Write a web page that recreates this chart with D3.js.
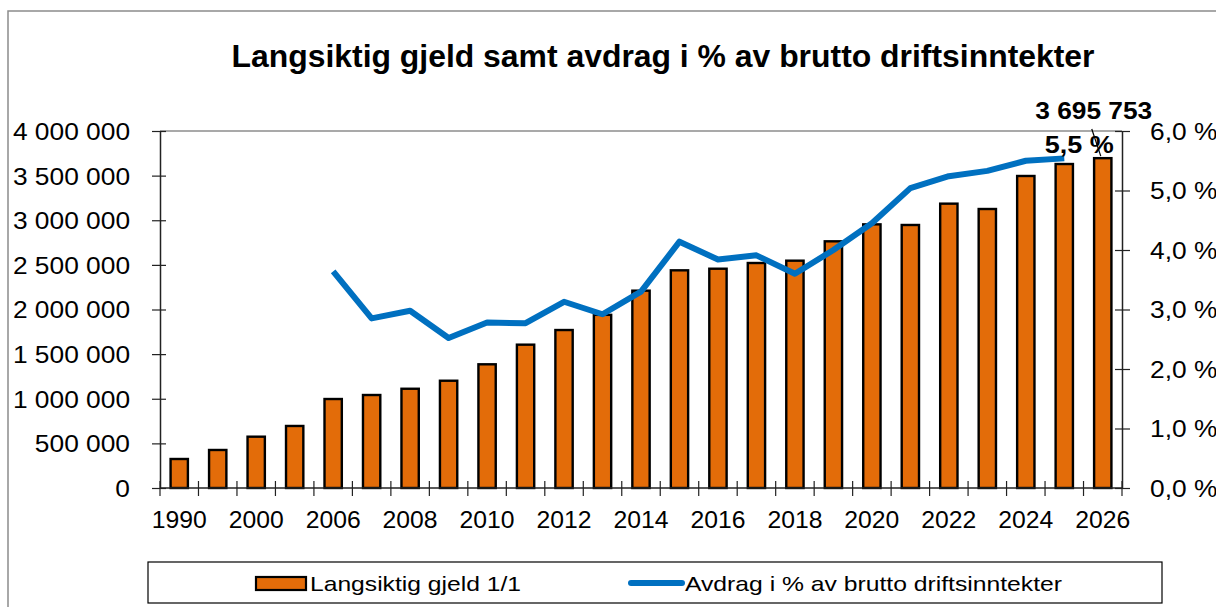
<!DOCTYPE html>
<html>
<head>
<meta charset="utf-8">
<script src="https://cdn.jsdelivr.net/npm/d3@7"></script>
<style>
  body { margin: 0; background: #fff; }
  text { font-family: "Liberation Sans", Arial, sans-serif; fill: #000; }
</style>
</head>
<body>
<div id="chart"></div>
<script>
// categories (x axis)
const years = ["1990", "1995", "2000", "2005", "2006", "2007", "2008", "2009", "2010", "2011",
  "2012", "2013", "2014", "2015", "2016", "2017", "2018", "2019", "2020", "2021",
  "2022", "2023", "2024", "2025", "2026"];
// only every other year gets a label
const yearLabels = ["1990", "2000", "2006", "2008", "2010", "2012", "2014", "2016", "2018",
  "2020", "2022", "2024", "2026"];

// Langsiktig gjeld 1/1 (kr 1000)
const debt = [325000, 426000, 575000, 695000, 997000, 1042000, 1112000, 1202000, 1386000, 1606000,
  1770000, 1940000, 2211000, 2439000, 2457000, 2521000, 2547000, 2764000, 2954000, 2947000,
  3186000, 3126000, 3496000, 3630000, 3695753];

// Avdrag i % av brutto driftsinntekter
const pct = [null, null, null, null, 3.64, 2.85, 2.98, 2.52, 2.78, 2.77,
  3.13, 2.92, 3.30, 4.14, 3.84, 3.91, 3.60, 4.00, 4.45, 5.04,
  5.24, 5.33, 5.50, 5.54, null];

const leftTicks = [0, 500000, 1000000, 1500000, 2000000, 2500000, 3000000, 3500000, 4000000];
const rightTicks = [0, 1, 2, 3, 4, 5, 6];

const W = 1216, H = 607;
const plot = {left: 160, right: 1122, top: 131, bottom: 488};

let svg = d3.select("#chart").append("svg")
    .attr("width", W)
    .attr("height", H);

svg.append("rect").attr("width", W).attr("height", H).attr("fill", "#fff");

// outer chart frame
svg.append("rect")
    .attr("x", 8).attr("y", 11)
    .attr("width", W + 20).attr("height", H + 20)
    .attr("fill", "none")
    .attr("stroke", "#8c8c8c")
    .attr("stroke-width", 1.5);

// stretch text horizontally to a width
function fit(sel, w) {
    sel.each(function() {
        let t = d3.select(this);
        let target = typeof w === "function" ? w(this) : w;
        t.attr("textLength", target).attr("lengthAdjust", "spacingAndGlyphs");
    });
}
function stretch(sel, k) {
    fit(sel, node => node.getComputedTextLength() * k);
}

let x = d3.scaleBand()
    .domain(years)
    .range([plot.left, plot.right])
    .paddingInner(0.55)
    .paddingOuter(0.275);

let yL = d3.scaleLinear().domain([0, 4000000]).range([plot.bottom, plot.top]);
let yR = d3.scaleLinear().domain([0, 6]).range([plot.bottom, plot.top]);

let fmtNum = v => d3.format(",")(v).replace(/,/g, " ");
let fmtPct = v => d3.format(".1f")(v).replace(".", ",") + " %";

// title
let title = svg.append("text")
    .attr("x", 663).attr("y", 67)
    .attr("text-anchor", "middle")
    .style("font-size", "32px")
    .style("font-weight", "bold")
    .text("Langsiktig gjeld samt avdrag i % av brutto driftsinntekter");
fit(title, 863);

// top frame of plot area
svg.append("line")
    .attr("x1", plot.left).attr("x2", plot.right)
    .attr("y1", plot.top).attr("y2", plot.top)
    .attr("stroke", "#8c8c8c").attr("stroke-width", 1.5);

// bars
svg.append("g").selectAll("rect")
    .data(years)
    .enter().append("rect")
    .attr("x", d => x(d))
    .attr("width", x.bandwidth())
    .attr("y", (d, i) => yL(debt[i]))
    .attr("height", (d, i) => yL(0) - yL(debt[i]))
    .attr("fill", "#E36C09")
    .attr("stroke", "#000")
    .attr("stroke-width", 2.4);

// left axis
let leftAxis = svg.append("g")
    .attr("transform", "translate(" + plot.left + ",0)")
    .call(d3.axisLeft(yL).tickValues(leftTicks).tickFormat(fmtNum).tickSizeOuter(0).tickPadding(24));
leftAxis.select(".domain").attr("stroke", "#222").attr("stroke-width", 1.5);
leftAxis.selectAll(".tick line").attr("x1", 6).attr("x2", -8).attr("stroke", "#222").attr("stroke-width", 1.2);
leftAxis.selectAll(".tick text")
    .attr("dy", "0.36em")
    .style("font-size", "23.5px")
    .style("font-family", "'Liberation Sans', Arial, sans-serif")
    .attr("fill", "#000");
stretch(leftAxis.selectAll(".tick text"), 1.12);

// right axis
let rightAxis = svg.append("g")
    .attr("transform", "translate(" + plot.right + ",0)")
    .call(d3.axisRight(yR).tickValues(rightTicks).tickFormat(fmtPct).tickSizeOuter(0).tickPadding(22));
rightAxis.select(".domain").attr("stroke", "#222").attr("stroke-width", 1.5);
rightAxis.selectAll(".tick line").attr("x1", -7).attr("x2", 8).attr("stroke", "#222").attr("stroke-width", 1.2);
rightAxis.selectAll(".tick text")
    .attr("dy", "0.36em")
    .style("font-size", "23.5px")
    .style("font-family", "'Liberation Sans', Arial, sans-serif")
    .attr("fill", "#000");
stretch(rightAxis.selectAll(".tick text"), 1.12);

// x axis line + category boundary ticks
let step = x.step();
let bounds = years.map(d => x(d) - step * x.paddingInner() / 2).concat([plot.right]);
svg.append("line")
    .attr("x1", plot.left).attr("x2", plot.right)
    .attr("y1", plot.bottom).attr("y2", plot.bottom)
    .attr("stroke", "#222").attr("stroke-width", 1.5);
svg.append("g").selectAll("line")
    .data(bounds)
    .enter().append("line")
    .attr("x1", d => d).attr("x2", d => d)
    .attr("y1", plot.bottom - 7).attr("y2", plot.bottom + 8)
    .attr("stroke", "#222").attr("stroke-width", 1.2);

let xLabels = svg.append("g").selectAll("text")
    .data(yearLabels)
    .enter().append("text")
    .attr("x", d => x(d) + x.bandwidth() / 2)
    .attr("y", 528)
    .attr("text-anchor", "middle")
    .style("font-size", "24px")
    .text(d => d);
stretch(xLabels, 1.03);

// line series
let line = d3.line()
    .defined(d => d != null)
    .x((d, i) => x(years[i]) + x.bandwidth() / 2)
    .y(d => yR(d));

svg.append("path")
    .datum(pct)
    .attr("d", line)
    .attr("fill", "none")
    .attr("stroke", "#0070C0")
    .attr("stroke-width", 6)
    .attr("stroke-linejoin", "round");

// data labels
let lastI = debt.length - 1;
let lastPct = 23;
let debtLabel = svg.append("text")
    .attr("x", x(years[lastI]) + x.bandwidth() / 2 - 9)
    .attr("y", 119)
    .attr("text-anchor", "middle")
    .style("font-size", "24px")
    .style("font-weight", "bold")
    .text(fmtNum(debt[lastI]));
fit(debtLabel, 117);

svg.append("line")
    .attr("x1", x(years[lastI]) + x.bandwidth() / 2 - 11).attr("y1", 129)
    .attr("x2", x(years[lastI]) + x.bandwidth() / 2 - 2).attr("y2", yL(debt[lastI]) - 2)
    .attr("stroke", "#000").attr("stroke-width", 1.2);

let pctLabel = svg.append("text")
    .attr("x", x(years[lastPct]) + x.bandwidth() / 2 + 15)
    .attr("y", 153)
    .attr("text-anchor", "middle")
    .style("font-size", "23.5px")
    .style("font-weight", "bold")
    .text(fmtPct(pct[lastPct]));
fit(pctLabel, 69);

// legend
let lg = svg.append("g");
lg.append("rect")
    .attr("x", 148).attr("y", 562)
    .attr("width", 1014).attr("height", 41)
    .attr("fill", "#fff")
    .attr("stroke", "#000")
    .attr("stroke-width", 1.2);
lg.append("rect")
    .attr("x", 256).attr("y", 577)
    .attr("width", 50).attr("height", 13)
    .attr("fill", "#E36C09")
    .attr("stroke", "#000")
    .attr("stroke-width", 2.2);
let lt1 = lg.append("text")
    .attr("x", 310).attr("y", 591)
    .style("font-size", "21px")
    .text("Langsiktig gjeld 1/1");
fit(lt1, 211);
lg.append("line")
    .attr("x1", 631).attr("x2", 682)
    .attr("y1", 583).attr("y2", 583)
    .attr("stroke", "#0070C0")
    .attr("stroke-width", 6)
    .attr("stroke-linecap", "round");
let lt2 = lg.append("text")
    .attr("x", 685).attr("y", 591)
    .style("font-size", "21px")
    .text("Avdrag i % av brutto driftsinntekter");
fit(lt2, 377);
</script>
</body>
</html>
